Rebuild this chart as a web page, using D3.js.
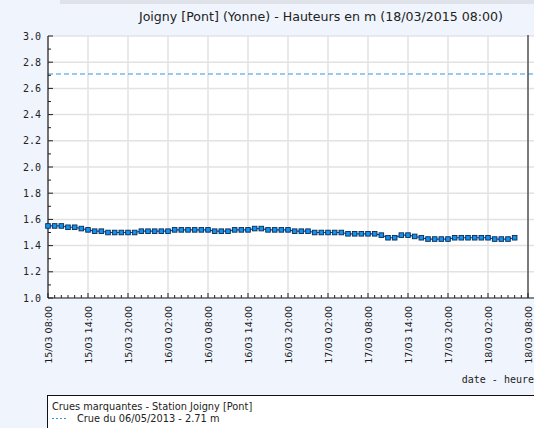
<!DOCTYPE html>
<html><head><meta charset="utf-8">
<script src="https://cdn.jsdelivr.net/npm/d3@7"></script>
<style>
html,body{margin:0;padding:0;background:#f0f5fd;overflow:hidden}
svg{display:block}
</style></head>
<body>
<svg id="c" width="534" height="428"></svg>
<script>
const title = "Joigny [Pont] (Yonne) - Hauteurs en m (18/03/2015 08:00)";
const startTime = "2015-03-15T08:00:00";
const endTime = "2015-03-18T08:00:00";
const values = [1.55,1.55,1.55,1.54,1.54,1.53,1.52,1.51,1.51,1.50,
  1.50,1.50,1.50,1.50,1.51,1.51,1.51,1.51,1.51,1.52,
  1.52,1.52,1.52,1.52,1.52,1.51,1.51,1.51,1.52,1.52,
  1.52,1.53,1.53,1.52,1.52,1.52,1.52,1.51,1.51,1.51,
  1.50,1.50,1.50,1.50,1.50,1.49,1.49,1.49,1.49,1.49,
  1.48,1.46,1.46,1.48,1.48,1.47,1.46,1.45,1.45,1.45,
  1.45,1.46,1.46,1.46,1.46,1.46,1.46,1.45,1.45,1.45,1.46];
const yTicks = [1.0,1.2,1.4,1.6,1.8,2.0,2.2,2.4,2.6,2.8,3.0];
const floodLevel = 2.71;
const legendTitle = "Crues marquantes - Station Joigny [Pont]";
const legendItem = "Crue du 06/05/2013 - 2.71 m";
const xAxisLabel = "date - heure";

const t0 = new Date(startTime), t1 = new Date(endTime);
const data = values.map((v,i)=>({t:d3.timeHour.offset(t0,i), v}));

const svg = d3.select("#c");
const L=48, R=528, T=36, B=298;
const x = d3.scaleTime().domain([t0,t1]).range([L,R]);
const y = d3.scaleLinear().domain([1,3]).range([B,T]);

// top faded strip
svg.append("rect").attr("x",60).attr("y",0).attr("width",474).attr("height",4).attr("fill","#dfe2e8");

// plot background
svg.append("rect").attr("x",L).attr("y",T).attr("width",534-L).attr("height",B-T).attr("fill","#fff");

// grid
const majorX = d3.range(0,13).map(i=>d3.timeHour.offset(t0,i*6));
svg.append("g").selectAll("line").data(majorX).join("line")
  .attr("x1",d=>x(d)).attr("x2",d=>x(d)).attr("y1",T).attr("y2",B)
  .attr("stroke","#e2e2e2").attr("stroke-width",1.5);
svg.append("g").selectAll("line").data(yTicks).join("line")
  .attr("x1",L).attr("x2",534).attr("y1",d=>y(d)).attr("y2",d=>y(d))
  .attr("stroke","#e2e2e2").attr("stroke-width",1.5);

// flood dashed line
svg.append("line").attr("x1",L).attr("x2",534).attr("y1",y(floodLevel)).attr("y2",y(floodLevel))
  .attr("stroke","#2a9ae8").attr("stroke-width",1).attr("stroke-dasharray","5,3");

// right vertical line (current time)
svg.append("line").attr("x1",x(t1)).attr("x2",x(t1)).attr("y1",T-1).attr("y2",B)
  .attr("stroke","#555").attr("stroke-width",1.5);

// y axis
const yMinor = d3.range(10,31).map(d=>d/10);
const ya = svg.append("g").attr("transform",`translate(${L},0)`);
ya.append("line").attr("x1",0).attr("x2",0).attr("y1",T).attr("y2",B).attr("stroke","#222").attr("stroke-width",1.2);
ya.selectAll("line.mn").data(yMinor).join("line").attr("class","mn")
  .attr("x1",0).attr("x2",d=>yTicks.some(t=>Math.abs(t-d)<1e-9)?5:3)
  .attr("y1",d=>y(d)).attr("y2",d=>y(d)).attr("stroke","#222");
ya.selectAll("text").data(yTicks).join("text")
  .attr("x",-7).attr("y",d=>y(d)).attr("dy","0.35em").attr("text-anchor","end")
  .attr("font-family","DejaVu Sans Mono").attr("font-size","10px").attr("fill","#222")
  .text(d=>d.toFixed(1));

// x axis
const xa = svg.append("g").attr("transform",`translate(0,${B})`);
xa.append("line").attr("x1",L).attr("x2",534).attr("y1",0).attr("y2",0).attr("stroke","#222").attr("stroke-width",1.2);
const hours = d3.range(0,74).map(i=>d3.timeHour.offset(t0,i));
xa.selectAll("line.t").data(hours).join("line").attr("class","t")
  .attr("x1",d=>x(d)).attr("x2",d=>x(d)).attr("y1",0)
  .attr("y2",(d,i)=>(i%6===0)?-5:-3).attr("stroke","#222");
const fmt = d3.timeFormat("%d/%m %H:%M");
xa.selectAll("text").data(majorX).join("text")
  .attr("transform",d=>`translate(${x(d)+3.5},8) rotate(-90)`)
  .attr("text-anchor","end")
  .attr("font-family","DejaVu Sans").attr("font-size","9.5px").attr("fill","#1a1a1a")
  .text(d=>fmt(d));

svg.append("text").attr("x",534).attr("y",383).attr("text-anchor","end")
  .attr("font-family","DejaVu Sans Mono").attr("font-size","10px").attr("fill","#222").text(xAxisLabel);

// title
svg.append("text").attr("x",503).attr("y",21).attr("text-anchor","end")
  .attr("font-family","DejaVu Sans").attr("font-size","12.6px").attr("fill","#222").text(title);

// series
svg.append("path").datum(data)
  .attr("d",d3.line().x(d=>x(d.t)).y(d=>y(d.v)))
  .attr("fill","none").attr("stroke","#3535b0").attr("stroke-width",1.2);
svg.append("g").selectAll("rect").data(data).join("rect")
  .attr("x",d=>x(d.t)-2.3).attr("y",d=>y(d.v)-2.3).attr("width",4.6).attr("height",4.6)
  .attr("fill","#0f94f0").attr("stroke","#0a2a50").attr("stroke-width",0.9);

// legend
svg.append("rect").attr("x",47.5).attr("y",395.5).attr("width",500).attr("height",60)
  .attr("fill","#fff").attr("stroke","#111");
svg.append("text").attr("x",52).attr("y",410).attr("font-family","Verdana, DejaVu Sans").attr("font-size","9.8px").attr("fill","#222").text(legendTitle);
svg.append("line").attr("x1",52).attr("x2",68).attr("y1",418.5).attr("y2",418.5)
  .attr("stroke","#2a9ae8").attr("stroke-dasharray","2,2");
svg.append("text").attr("x",77).attr("y",421.5).attr("font-family","Verdana, DejaVu Sans").attr("font-size","9.8px").attr("fill","#222").text(legendItem);
</script>
</body></html>
